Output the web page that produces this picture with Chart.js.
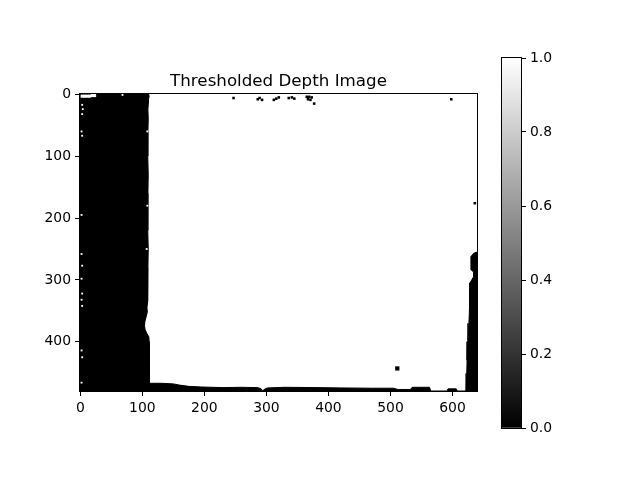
<!DOCTYPE html>
<html>
<head>
<meta charset="utf-8">
<script src="https://cdn.jsdelivr.net/npm/chart.js@4"></script>
<style>
  body { margin: 0; background: #fff; }
  #wrap { position: relative; width: 640px; height: 480px; }
  #main { position: absolute; left: 0; top: 0; }
  #cbar { position: absolute; left: 480px; top: 40px; }
</style>
</head>
<body>
<div id="wrap">
  <canvas id="main" width="640" height="480"></canvas>
  <canvas id="cbar" width="110" height="410"></canvas>
</div>
<script>
// Image size (columns x rows)
var imgCols = 640;
var imgRows = 480;

// Tick labels
var xTicks = [0, 100, 200, 300, 400, 500, 600];
var yTicks = [0, 100, 200, 300, 400];
var cbTicks = [0, 0.2, 0.4, 0.6, 0.8, 1.0];
var cbRange = [0, 1];

// Left black block: right edge (column) for each row
var leftEdgeY = [-0.5, 3, 8, 15, 25, 40, 60, 80, 100, 130, 160, 190, 220, 250, 280, 310, 335, 345, 352, 360, 368, 374, 380, 386, 392, 400, 420, 440, 460, 479.5];
var leftEdgeX = [110, 111, 110, 109.5, 109, 109.5, 109, 108.5, 109, 109.5, 109, 108.5, 109, 109.5, 109, 108.5, 108.5, 107.5, 108, 106, 104, 103.5, 104.5, 107, 110.5, 111, 111.5, 111, 111.5, 111];

// Bottom black strip: top edge (row) for each column
var stripX = [109, 130, 150, 160, 175, 195, 230, 260, 285, 291, 294, 298, 302, 330, 380, 420, 470, 505, 512, 532, 535, 563, 565, 591, 593, 606, 608, 625];
var stripY = [467, 467, 468, 470, 472, 473, 474, 473.5, 474, 475.5, 479, 476, 474.5, 473.5, 474, 474.5, 475, 475, 477, 477, 473.5, 473.5, 479.5, 479.5, 476, 476, 479.5, 479.5];

// Right black block: left edge (column) for each row
var rightEdgeY = [255, 257, 262, 270, 284, 287, 295, 300, 305, 320, 343, 370, 397, 400, 430, 451, 465, 479.5];
var rightEdgeX = [639.5, 634, 630, 630.5, 630, 634, 634, 631, 628, 628, 627, 626.5, 625, 624, 623.5, 623, 622, 622];

// Small black specks
var speckX = [247, 286, 289, 293, 312, 316, 320, 336, 341, 345, 365, 369, 373, 367, 371, 377, 598, 636];
var speckY = [6, 8, 6, 9, 9, 7, 5, 6, 5, 7, 4, 4, 5, 8, 9, 15, 8, 176];
var blobX = [511];
var blobY = [443];

// White notch at the top-left corner
var notchX = [3, 7, 11, 15, 19, 23];
var notchY = [3, 3, 3, 3, 2, 2];

// White holes inside the left block
var holeX = [3, 4, 3, 2, 3, 2, 2, 3, 2, 3, 2, 3, 2, 3, 2, 68, 108, 108, 107];
var holeY = [17, 24, 32, 60, 67, 195, 258, 277, 298, 322, 332, 342, 414, 425, 466, 1, 60, 180, 250];

Chart.defaults.font.family = "'DejaVu Sans', sans-serif";
Chart.defaults.font.size = 13.9;
Chart.defaults.color = '#000';

function toPoints(xs, ys) {
    return xs.map(function(x, i) {
        return {x: x, y: ys[i]};
    });
}

function setTicks(values) {
    return function(scale) {
        scale.ticks = values.map(function(v) { return {value: v}; });
    };
}

// Black frame around the plot area
var framePlugin = {
    id: 'frame',
    afterDatasetsDraw: function(chart) {
        var a = chart.chartArea;
        var ctx = chart.ctx;
        ctx.save();
        ctx.strokeStyle = '#000';
        ctx.lineWidth = 1;
        ctx.strokeRect(Math.round(a.left) - 0.5, Math.round(a.top) - 0.5,
            Math.round(a.right - a.left) + 1, Math.round(a.bottom - a.top) + 1);
        ctx.restore();
    }
};

// Title centred on the plot area
var titlePlugin = {
    id: 'plotTitle',
    afterDraw: function(chart) {
        var a = chart.chartArea;
        var ctx = chart.ctx;
        ctx.save();
        ctx.font = "16.7px 'DejaVu Sans', sans-serif";
        ctx.fillStyle = '#000';
        ctx.textAlign = 'center';
        ctx.textBaseline = 'alphabetic';
        ctx.fillText('Thresholded Depth Image', (a.left + a.right) / 2, a.top - 8);
        ctx.restore();
    }
};

var tickGrid = {
    drawOnChartArea: false,
    drawTicks: true,
    tickLength: 5,
    color: '#000',
    lineWidth: 1
};

new Chart(document.getElementById('main'), {
    type: 'line',
    data: {
        datasets: [
            {
                type: 'scatter',
                data: toPoints(notchX, notchY),
                pointStyle: 'rect',
                pointRadius: 2.2,
                backgroundColor: '#fff',
                borderWidth: 0
            },
            {
                type: 'scatter',
                data: toPoints(holeX, holeY),
                pointStyle: 'rect',
                pointRadius: 1.3,
                backgroundColor: '#fff',
                borderWidth: 0
            },
            {
                type: 'scatter',
                data: toPoints(speckX, speckY),
                pointStyle: 'rect',
                pointRadius: 1.8,
                backgroundColor: '#000',
                borderWidth: 0
            },
            {
                type: 'scatter',
                data: toPoints(blobX, blobY),
                pointStyle: 'rect',
                pointRadius: 3,
                backgroundColor: '#000',
                borderWidth: 0
            },
            {
                data: toPoints(leftEdgeX, leftEdgeY),
                indexAxis: 'y',
                fill: {value: -0.5},
                backgroundColor: '#000',
                borderColor: '#000',
                borderWidth: 1,
                pointRadius: 0,
                tension: 0
            },
            {
                data: toPoints(rightEdgeX, rightEdgeY),
                indexAxis: 'y',
                fill: {value: imgCols - 0.5},
                backgroundColor: '#000',
                borderColor: '#000',
                borderWidth: 1,
                pointRadius: 0,
                tension: 0
            },
            {
                data: toPoints(stripX, stripY),
                fill: {value: imgRows - 0.5},
                backgroundColor: '#000',
                borderColor: '#000',
                borderWidth: 1,
                pointRadius: 0,
                tension: 0
            }
        ]
    },
    options: {
        responsive: false,
        animation: false,
        layout: {padding: {left: 40, right: 163, top: 94, bottom: 59}},
        plugins: {
            legend: {display: false},
            tooltip: {enabled: false}
        },
        scales: {
            x: {
                type: 'linear',
                min: -0.5,
                max: imgCols - 0.5,
                afterBuildTicks: setTicks(xTicks),
                afterFit: function(s) { s.height = 30; },
                ticks: {padding: 4, maxRotation: 0},
                grid: tickGrid,
                border: {display: false}
            },
            y: {
                type: 'linear',
                reverse: true,
                min: -0.5,
                max: imgRows - 0.5,
                afterBuildTicks: setTicks(yTicks),
                afterFit: function(s) { s.width = 40; },
                ticks: {padding: 4},
                grid: tickGrid,
                border: {display: false}
            }
        }
    },
    plugins: [framePlugin, titlePlugin]
});

// Colorbar
new Chart(document.getElementById('cbar'), {
    type: 'bar',
    data: {
        labels: [''],
        datasets: [{
            data: [cbRange],
            backgroundColor: function(c) {
                var a = c.chart.chartArea;
                if (!a) return '#808080';
                var g = c.chart.ctx.createLinearGradient(0, a.bottom, 0, a.top);
                g.addColorStop(0, '#000');
                g.addColorStop(1, '#fff');
                return g;
            },
            borderWidth: 0,
            barPercentage: 1,
            categoryPercentage: 1
        }]
    },
    options: {
        responsive: false,
        animation: false,
        layout: {padding: {left: 22, right: 29, top: 18, bottom: 22}},
        plugins: {
            legend: {display: false},
            tooltip: {enabled: false}
        },
        scales: {
            x: {display: false},
            y: {
                position: 'right',
                min: cbRange[0],
                max: cbRange[1],
                afterBuildTicks: setTicks(cbTicks),
                afterFit: function(s) { s.width = 40; },
                ticks: {
                    padding: 4,
                    callback: function(v) { return v.toFixed(1); }
                },
                grid: tickGrid,
                border: {display: false}
            }
        }
    },
    plugins: [framePlugin]
});
</script>
</body>
</html>
